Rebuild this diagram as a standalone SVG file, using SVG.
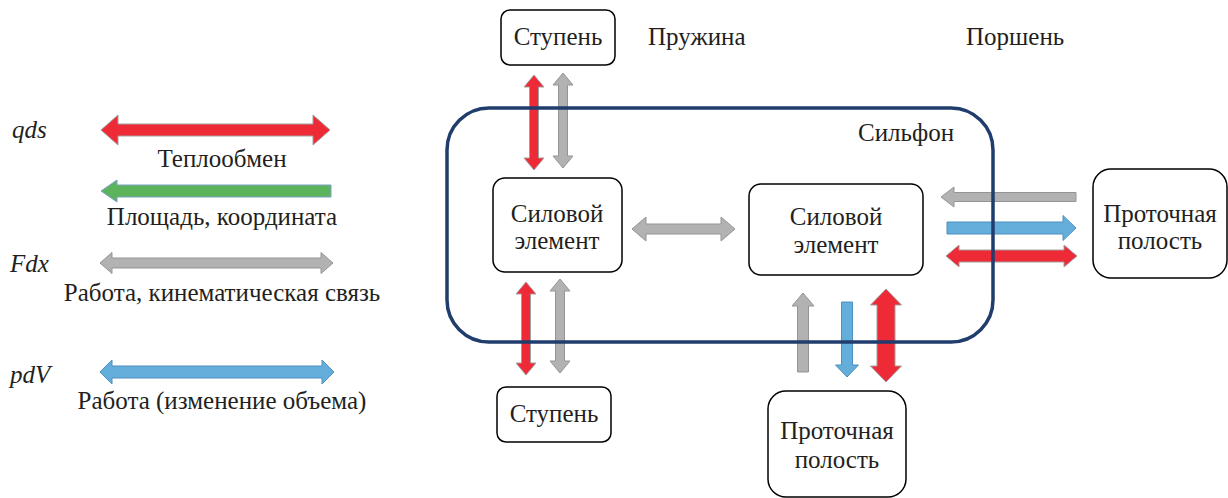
<svg xmlns="http://www.w3.org/2000/svg" width="1228" height="498" viewBox="0 0 1228 498">
  <style>
    .mid { text-anchor: middle; }
    .box { fill: #ffffff; stroke: #000000; stroke-width: 1.5; }
    .frame { fill: none; stroke: #213d6e; stroke-width: 3.5; }
    .red { fill: #ee2a37; stroke: #a0a0a0; stroke-width: 1; }
    .gray { fill: #b2b2b2; stroke: #959595; stroke-width: 1; }
    .green { fill: #5bb35b; stroke: #7d9fc8; stroke-width: 1; }
    .blue { fill: #63aedb; stroke: #4f8fbf; stroke-width: 1; }
  </style>
  <rect width="1228" height="498" fill="#ffffff"/>

  <g id="legend">
    <text x="12" y="138" font-family="Liberation Serif" font-size="25" font-style="italic" fill="#231f20">qds</text>
    <path class="red" d="M101,130 L118,115 L118,124 L313,124 L313,115 L330,130 L313,145 L313,136 L118,136 L118,145 Z"/>
    <text class="mid" x="222" y="167" font-family="Liberation Serif" font-size="25" fill="#231f20">Теплообмен</text>
    <path class="green" d="M101,191 L117,180 L117,185 L331,185 L331,197 L117,197 L117,202 Z"/>
    <text class="mid" x="222" y="225" font-family="Liberation Serif" font-size="25" fill="#231f20">Площадь, координата</text>
    <text x="10" y="272" font-family="Liberation Serif" font-size="25" font-style="italic" fill="#231f20">Fdx</text>
    <path class="gray" d="M100,263 L112,252.5 L112,258 L321,258 L321,252.5 L333,263 L321,273.5 L321,268 L112,268 L112,273.5 Z"/>
    <text class="mid" x="222" y="301" font-family="Liberation Serif" font-size="25" fill="#231f20">Работа, кинематическая связь</text>
    <text x="10" y="383" font-family="Liberation Serif" font-size="25" font-style="italic" fill="#231f20">pdV</text>
    <path class="blue" d="M100,372 L112,360 L112,366 L322,366 L322,360 L334,372 L322,384 L322,378 L112,378 L112,384 Z"/>
    <text class="mid" x="222" y="409" font-family="Liberation Serif" font-size="25" fill="#231f20">Работа (изменение объема)</text>
  </g>

  <g id="connectors">
    <path class="red" d="M534,75 L544,87 L538.5,87 L538.5,158 L544,158 L534,170 L524,158 L529.5,158 L529.5,87 L524,87 Z"/>
    <path class="gray" d="M563,73 L573,85 L567.5,85 L567.5,156 L573,156 L563,168 L553,156 L558.5,156 L558.5,85 L553,85 Z"/>
    <path class="gray" d="M632,229 L646,217 L646,224 L721,224 L721,217 L735,229 L721,241 L721,234 L646,234 L646,241 Z"/>
    <path class="red" d="M526,282 L536,294 L530.5,294 L530.5,363 L536,363 L526,375 L516,363 L521.5,363 L521.5,294 L516,294 Z"/>
    <path class="gray" d="M560,279 L570,291 L564.5,291 L564.5,361 L570,361 L560,373 L550,361 L555.5,361 L555.5,291 L550,291 Z"/>
    <path class="gray" d="M803,293 L814,306 L808.5,306 L808.5,372 L797.5,372 L797.5,306 L792,306 Z"/>
    <path class="blue" d="M841.5,302 L852.5,302 L852.5,365 L858.5,365 L847,377 L835.5,365 L841.5,365 Z"/>
    <path class="red" d="M886,289 L901.5,305 L895,305 L895,366 L901.5,366 L886,382 L870.5,366 L877,366 L877,305 L870.5,305 Z"/>
    <path class="gray" d="M941,197 L954,187 L954,192.5 L1076,192.5 L1076,201.5 L954,201.5 L954,207 Z"/>
    <path class="blue" d="M947,222 L1063,222 L1063,215.5 L1076,228 L1063,240.5 L1063,234 L947,234 Z"/>
    <path class="red" d="M946,256 L959,245 L959,250 L1064,250 L1064,245 L1077,256 L1064,267 L1064,262 L959,262 L959,267 Z"/>
  </g>

  <g id="bellows">
    <rect class="frame" x="447" y="108" width="546" height="234" rx="42" ry="42"/>
    <text x="858" y="141" font-family="Liberation Serif" font-size="25" fill="#231f20">Сильфон</text>
  </g>

  <g id="label-spring"><text x="648" y="45" font-family="Liberation Serif" font-size="25" fill="#231f20">Пружина</text></g>
  <g id="label-piston"><text x="966" y="45" font-family="Liberation Serif" font-size="25" fill="#231f20">Поршень</text></g>

  <g id="stage-top">
    <rect class="box" x="501" y="10" width="114" height="55" rx="9"/>
    <text class="mid" x="558" y="45" font-family="Liberation Serif" font-size="25" fill="#231f20">Ступень</text>
  </g>

  <g id="force-left">
    <rect class="box" x="493" y="178" width="129" height="94" rx="12"/>
    <text class="mid" x="557" y="222" font-family="Liberation Serif" font-size="25" fill="#231f20">Силовой</text>
    <text class="mid" x="557" y="249" font-family="Liberation Serif" font-size="25" fill="#231f20">элемент</text>
  </g>

  <g id="force-right">
    <rect class="box" x="749" y="184" width="174" height="91" rx="12"/>
    <text class="mid" x="836" y="225" font-family="Liberation Serif" font-size="25" fill="#231f20">Силовой</text>
    <text class="mid" x="836" y="253" font-family="Liberation Serif" font-size="25" fill="#231f20">элемент</text>
  </g>

  <g id="stage-bottom">
    <rect class="box" x="497" y="387" width="114" height="55" rx="9"/>
    <text class="mid" x="554" y="422" font-family="Liberation Serif" font-size="25" fill="#231f20">Ступень</text>
  </g>

  <g id="cavity-right">
    <rect class="box" x="1093" y="169" width="134" height="109" rx="18"/>
    <text class="mid" x="1160" y="222" font-family="Liberation Serif" font-size="25" fill="#231f20">Проточная</text>
    <text class="mid" x="1160" y="249" font-family="Liberation Serif" font-size="25" fill="#231f20">полость</text>
  </g>

  <g id="cavity-bottom">
    <rect class="box" x="768" y="391" width="138" height="106" rx="18"/>
    <text class="mid" x="837" y="439" font-family="Liberation Serif" font-size="25" fill="#231f20">Проточная</text>
    <text class="mid" x="837" y="468" font-family="Liberation Serif" font-size="25" fill="#231f20">полость</text>
  </g>
</svg>
